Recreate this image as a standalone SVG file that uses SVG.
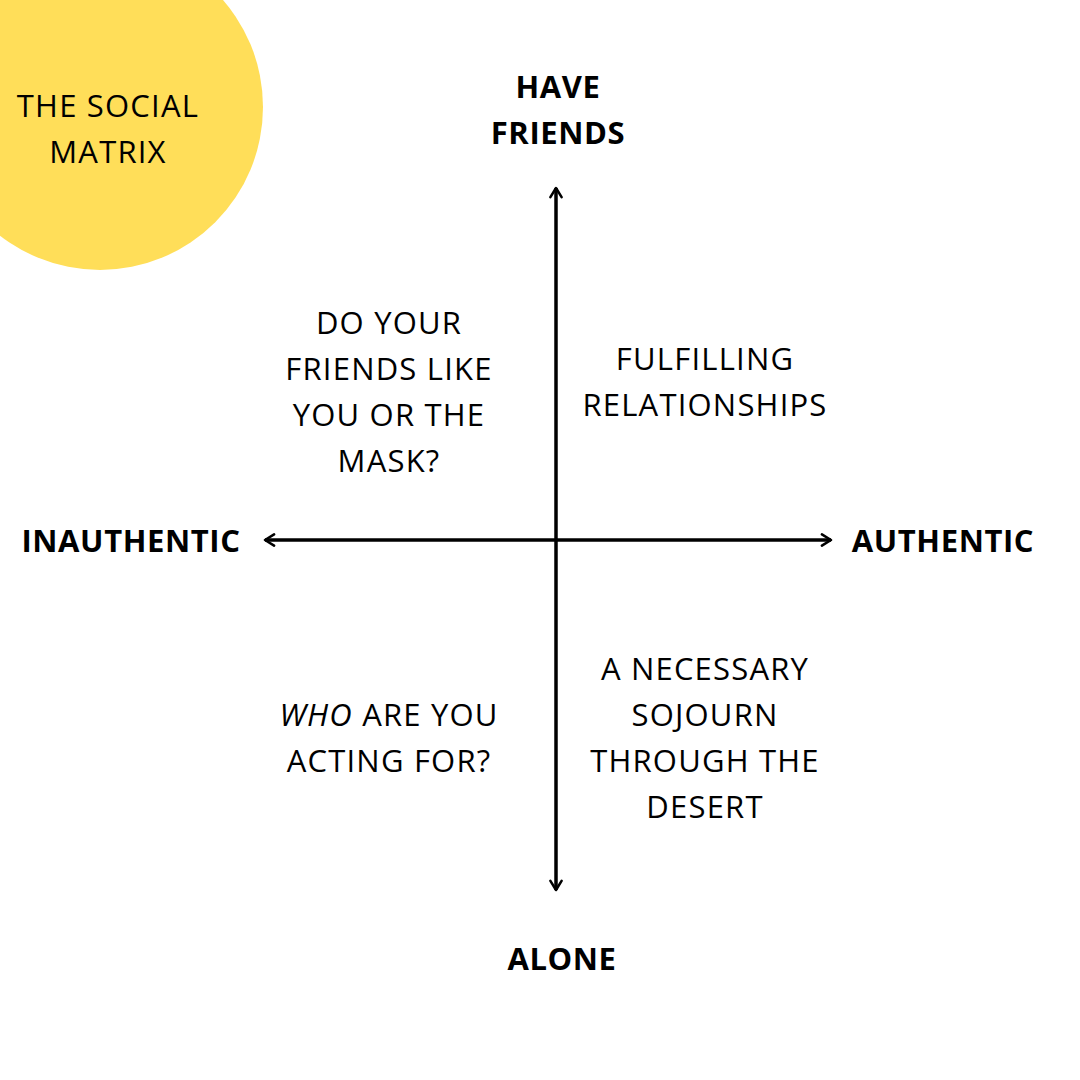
<svg xmlns="http://www.w3.org/2000/svg" width="1080" height="1080" viewBox="0 0 1080 1080">
<style>
text{font-family:"Open Sans","Noto Sans","Liberation Sans",sans-serif;font-size:31px;letter-spacing:1.2px;fill:#000;text-anchor:middle}
.b{font-weight:bold;letter-spacing:0.6px}
.ax{stroke:#000;stroke-width:3.5;fill:none}
</style>
<defs>
<marker id="ah" viewBox="0 0 10 10" refX="8" refY="5" markerWidth="4" markerHeight="4" orient="auto-start-reverse" markerUnits="strokeWidth">
<path d="M1.5,1 L8,5 L1.5,9" fill="none" stroke="#000" stroke-width="1.8" stroke-linecap="round" stroke-linejoin="round"/>
</marker>
</defs>
<rect width="1080" height="1080" fill="#fff"/>
<g id="title">
<circle cx="100" cy="107" r="163" fill="#FFDE59"/>
<text x="108" y="117">THE SOCIAL</text>
<text x="108" y="163">MATRIX</text>
</g>
<g id="connectors">
<line class="ax" x1="556" y1="188" x2="556" y2="890" marker-start="url(#ah)" marker-end="url(#ah)"/>
<line class="ax" x1="265" y1="540" x2="831" y2="540" marker-start="url(#ah)" marker-end="url(#ah)"/>
</g>
<g id="have-friends"><text class="b" x="558" y="98">HAVE</text><text class="b" x="558" y="144">FRIENDS</text></g>
<g id="inauthentic"><text class="b" x="131" y="552">INAUTHENTIC</text></g>
<g id="authentic"><text class="b" x="943" y="552">AUTHENTIC</text></g>
<g id="alone"><text class="b" x="562" y="970">ALONE</text></g>
<g id="q-top-left">
<text x="389" y="334">DO YOUR</text>
<text x="389" y="380">FRIENDS LIKE</text>
<text x="389" y="426">YOU OR THE</text>
<text x="389" y="472">MASK?</text>
</g>
<g id="q-top-right">
<text x="705" y="370">FULFILLING</text>
<text x="705" y="416">RELATIONSHIPS</text>
</g>
<g id="q-bottom-left">
<text x="389" y="726"><tspan font-style="italic">WHO</tspan> ARE YOU</text>
<text x="389" y="772">ACTING FOR?</text>
</g>
<g id="q-bottom-right">
<text x="705" y="680">A NECESSARY</text>
<text x="705" y="726">SOJOURN</text>
<text x="705" y="772">THROUGH THE</text>
<text x="705" y="818">DESERT</text>
</g>
</svg>
